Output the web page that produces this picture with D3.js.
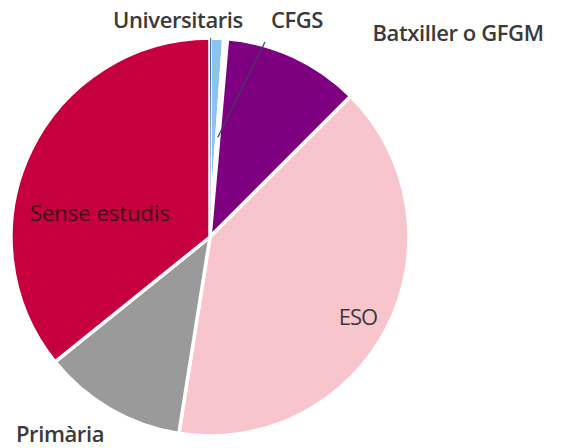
<!DOCTYPE html>
<html>
<head>
<meta charset="utf-8">
<script src="https://cdn.jsdelivr.net/npm/d3@7"></script>
<style>
  html, body { margin: 0; padding: 0; background: #fff; }
  svg text { font-family: "Open Sans", sans-serif; }
</style>
</head>
<body>
<div class="chart"></div>
<script>
"use strict";

// nivell d'estudis (%)
var categories = ['Universitaris', 'CFGS', 'Batxiller o GFGM', 'ESO', 'Primària', 'Sense estudis'];
var values = [1.1, 0.3, 11.1, 40.0, 11.7, 35.8];
var colors = ['#8cc4ee', '#8b0a2a', '#7d0080', '#f9c5cd', '#9a9a9a', '#c6003e'];

// where each label sits: [x, y] absolute, or null to use the centroid
var labelPos = [[178, 28], [297, 28], [458, 41], null, [60, 442], [100, 221]];
var labelFill = ['#3a3a3a', '#3a3a3a', '#3a3a3a', '#3a3a3a', '#3a3a3a', '#3e0a1c'];
var labelWeight = [600, 600, 600, 400, 600, 400];

var W = 561, H = 448;
var cx = 210, cy = 237, r = 199;

var svg = d3.select('.chart').append('svg')
  .attr('width', W).attr('height', H)
  .attr('viewBox', '0 0 ' + W + ' ' + H);

var g = svg.append('g').attr('transform', 'translate(' + cx + ', ' + cy + ')');

var data = categories.map(function (c, i) {
  return { name: c, value: values[i], color: colors[i] };
});

var pie = d3.pie().sort(null).value(function (d) { return d.value; });
var arcs = pie(data);
var Arc = d3.arc().innerRadius(0).outerRadius(r);
var labelArc = d3.arc().innerRadius(166).outerRadius(166);
var leaderArc = d3.arc().innerRadius(100).outerRadius(100);

g.selectAll('path.slice')
  .data(arcs)
  .enter().append('path')
  .attr('class', 'slice')
  .attr('d', Arc)
  .style('fill', function (d) { return d.data.color; })
  .style('stroke', '#fff')
  .style('stroke-width', 3.5)
  .style('stroke-linejoin', 'round');

// thin darker edge on the Universitaris slice
g.append('path')
  .datum({ startAngle: arcs[0].startAngle, endAngle: arcs[0].startAngle + 0.006 })
  .attr('d', Arc)
  .style('fill', '#3d6fa8');

// leader line for CFGS
var cfgsPt = leaderArc.centroid(arcs[1]);
g.append('line')
  .attr('x1', 265 - cx).attr('y1', 42 - cy)
  .attr('x2', cfgsPt[0]).attr('y2', cfgsPt[1])
  .style('stroke', '#4a3a5a')
  .style('stroke-width', 1.3);

svg.selectAll('text.lbl')
  .data(arcs)
  .enter().append('text')
  .attr('class', 'lbl')
  .attr('x', function (d, i) { return labelPos[i] ? labelPos[i][0] : labelArc.centroid(d)[0] + cx; })
  .attr('y', function (d, i) { return labelPos[i] ? labelPos[i][1] : labelArc.centroid(d)[1] + cy + 13; })
  .attr('text-anchor', 'middle')
  .style('font-size', '22px')
  .style('font-weight', function (d, i) { return labelWeight[i]; })
  .style('letter-spacing', function (d, i) { return i === 5 ? '0px' : (labelWeight[i] === 400 ? '-1px' : '-0.4px'); })
  .style('fill', function (d, i) { return labelFill[i]; })
  .text(function (d) { return d.data.name; });
</script>
</body>
</html>
